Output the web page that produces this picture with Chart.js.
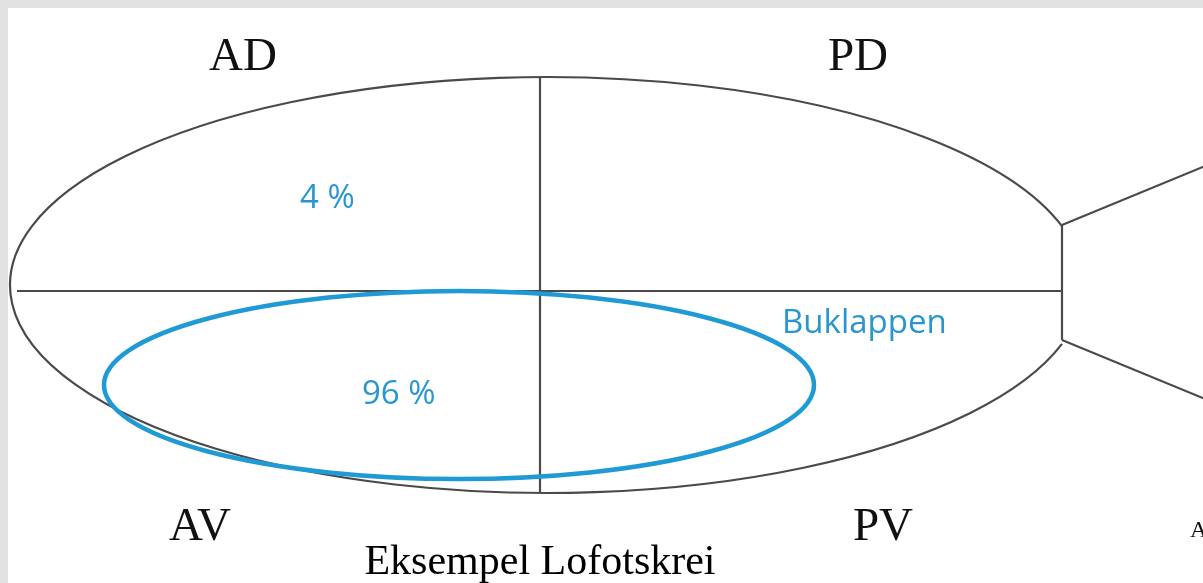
<!DOCTYPE html>
<html>
<head>
<meta charset="utf-8">
<script src="https://cdn.jsdelivr.net/npm/chart.js@4/dist/chart.umd.min.js"></script>
<style>
  html, body { margin: 0; padding: 0; background: #e2e2e2; overflow: hidden; }
  #wrap { position: absolute; left: 8px; top: 8px; width: 1195px; height: 575px; background: #fff; }
</style>
</head>
<body>
<div id="wrap"><canvas id="fisk" width="1195" height="575"></canvas></div>
<script>
// Koordinater i bildeenheter (x mot høyre, y nedover)
const rammeX = [8, 1203];
const rammeY = [8, 583];

// Streker i fisken: start og slutt
const strekStart = [[17, 291], [540, 77], [1062, 225], [1062, 225], [1062, 340]];
const strekSlutt = [[1062, 291], [540, 493], [1062, 340], [1210, 164], [1210, 401]];

// Kroppen (ellipse kuttet ved halen) og buklappen
const kroppSenter = [547, 285];
const kroppRadius = [537, 208];
const kroppKutt = 1062;
const buklappSenter = [459, 385];
const buklappRadius = [355, 94];

// Tekster
const feltNavn = ["AD", "PD", "AV", "PV"];
const feltPos = [[243, 70], [858, 70], [200, 540], [883, 540]];
const andelTekst = ["4 %", "96 %", "Buklappen"];
const andelPos = [[300, 208], [362, 404], [782, 333]];
const tittel = "Eksempel Lofotskrei";
const tittelPos = [540, 574];

const strekFarge = "#4a4a4a";
const blaa = "#1f9ad4";
const blaaTekst = "#2996cf";

let datasett = [];
for (let i = 0; i < strekStart.length; i++) {
    datasett.push({
        data: [{x: strekStart[i][0], y: strekStart[i][1]}, {x: strekSlutt[i][0], y: strekSlutt[i][1]}],
        showLine: true,
        pointRadius: 0,
        borderColor: strekFarge,
        borderWidth: 2.2,
        clip: false
    });
}

// Tegner ellipser og tekst via skalaene
const tegnFisk = {
    id: 'tegnFisk',
    afterDatasetsDraw(chart) {
        const ctx = chart.ctx;
        const sx = chart.scales.x;
        const sy = chart.scales.y;
        const px = v => sx.getPixelForValue(v);
        const py = v => sy.getPixelForValue(v);

        // kropp
        let cx = px(kroppSenter[0]), cy = py(kroppSenter[1]);
        let rx = px(kroppSenter[0] + kroppRadius[0]) - cx;
        let ry = py(kroppSenter[1] + kroppRadius[1]) - cy;
        let vinkel = Math.acos((px(kroppKutt) - cx) / rx);
        ctx.save();
        ctx.strokeStyle = strekFarge;
        ctx.lineWidth = 2.2;
        ctx.beginPath();
        ctx.ellipse(cx, cy, rx, ry, 0, vinkel, 2 * Math.PI - vinkel);
        ctx.stroke();

        // buklapp
        cx = px(buklappSenter[0]); cy = py(buklappSenter[1]);
        rx = px(buklappSenter[0] + buklappRadius[0]) - cx;
        ry = py(buklappSenter[1] + buklappRadius[1]) - cy;
        ctx.strokeStyle = blaa;
        ctx.lineWidth = 4.5;
        ctx.beginPath();
        ctx.ellipse(cx, cy, rx, ry, 0, 0, 2 * Math.PI);
        ctx.stroke();

        // feltnavn
        ctx.fillStyle = "#111";
        ctx.font = "47px 'Liberation Serif', 'DejaVu Serif', serif";
        ctx.textAlign = "center";
        ctx.textBaseline = "alphabetic";
        for (let i = 0; i < feltNavn.length; i++) {
            ctx.fillText(feltNavn[i], px(feltPos[i][0]), py(feltPos[i][1]));
        }
        ctx.font = "24px 'Liberation Serif', serif";
        ctx.textAlign = "left";
        ctx.fillText("A", px(1190), py(537));

        // andeler
        ctx.fillStyle = blaaTekst;
        ctx.font = "33px 'Open Sans', sans-serif";
        ctx.textAlign = "left";
        for (let i = 0; i < andelTekst.length; i++) {
            ctx.fillText(andelTekst[i], px(andelPos[i][0]), py(andelPos[i][1]));
        }

        // tittel
        ctx.fillStyle = "#000";
        ctx.font = "42px 'Liberation Serif', serif";
        ctx.textAlign = "center";
        ctx.fillText(tittel, px(tittelPos[0]), py(tittelPos[1]));
        ctx.restore();
    }
};

new Chart(document.getElementById('fisk'), {
    type: 'scatter',
    data: { datasets: datasett },
    options: {
        responsive: false,
        animation: false,
        devicePixelRatio: 1,
        layout: { padding: 0 },
        plugins: { legend: { display: false }, tooltip: { enabled: false } },
        scales: {
            x: { type: 'linear', min: rammeX[0], max: rammeX[1], display: false },
            y: { type: 'linear', min: rammeY[0], max: rammeY[1], reverse: true, display: false }
        }
    },
    plugins: [tegnFisk]
});
</script>
</body>
</html>
